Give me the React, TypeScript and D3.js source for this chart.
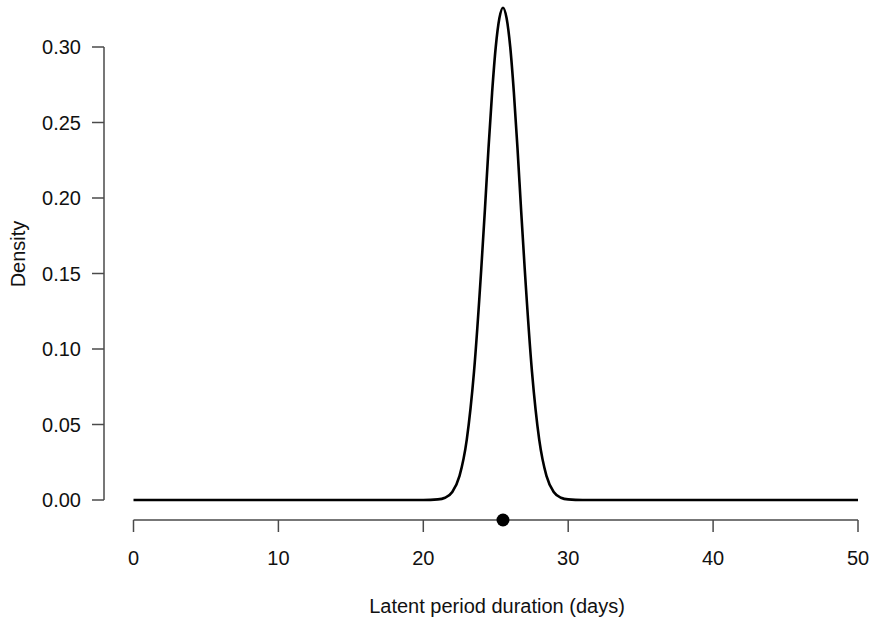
import * as d3 from "d3";
import { useRef, useEffect } from "react";

// density curve (days, density)
const days = [0, 10, 20, 21, 21.5, 22, 22.5, 23, 23.5, 24, 24.25, 24.5, 24.75, 25, 25.25, 25.5, 25.75, 26, 26.25, 26.5, 26.75, 27, 27.5, 28, 28.5, 29, 29.5, 30, 31, 40, 50];
const density = [0, 0, 0.00002, 0.0004, 0.0015, 0.0053, 0.016, 0.040, 0.085, 0.153, 0.192, 0.233, 0.270, 0.300, 0.319, 0.326, 0.319, 0.300, 0.270, 0.233, 0.192, 0.153, 0.085, 0.040, 0.016, 0.0053, 0.0015, 0.0004, 0.00002, 0, 0];

// point estimate shown under the curve
const meanDay = 25.5;

const xTicks = [0, 10, 20, 30, 40, 50];
const yTicks = [0, 0.05, 0.1, 0.15, 0.2, 0.25, 0.3];

export default function App() {
    const svgRef = useRef<SVGSVGElement>(null);

    useEffect(() => {
        const svg = d3.select(svgRef.current);
        svg.selectAll("*").remove();

        const font = "'Liberation Sans', Arial, sans-serif";
        const axisColor = "#4a4a4a";

        // scales
        const x = d3.scaleLinear().domain([0, 50]).range([133.5, 858]);
        const y = d3.scaleLinear().domain([0, 0.3]).range([500, 47]);

        const axisY = 520;
        const axisX = 104;

        // curve
        const points = days.map((d, i) => [d, density[i]] as [number, number]);
        const line = d3.line<[number, number]>().x(d => x(d[0])).y(d => y(d[1])).curve(d3.curveMonotoneX);
        svg.append("path").datum(points).attr("d", line).attr("fill", "none").attr("stroke", "#000").attr("stroke-width", 2.6).attr("stroke-linejoin", "round");

        // x axis
        const gx = svg.append("g");
        gx.append("line").attr("x1", x(0)).attr("x2", x(50)).attr("y1", axisY).attr("y2", axisY).attr("stroke", axisColor).attr("stroke-width", 1.5);
        gx.selectAll("line.tick").data(xTicks).enter().append("line").attr("class", "tick")
            .attr("x1", d => x(d)).attr("x2", d => x(d)).attr("y1", axisY).attr("y2", axisY + 12).attr("stroke", axisColor).attr("stroke-width", 1.5);
        gx.selectAll("text").data(xTicks).enter().append("text")
            .attr("x", d => x(d)).attr("y", 565).attr("text-anchor", "middle")
            .style("font-family", font).style("font-size", "20px").attr("fill", "#111").text(d => d);

        // y axis
        const gy = svg.append("g");
        gy.append("line").attr("x1", axisX).attr("x2", axisX).attr("y1", y(0)).attr("y2", y(0.3)).attr("stroke", axisColor).attr("stroke-width", 1.5);
        gy.selectAll("line.tick").data(yTicks).enter().append("line").attr("class", "tick")
            .attr("x1", axisX - 12).attr("x2", axisX).attr("y1", d => y(d)).attr("y2", d => y(d)).attr("stroke", axisColor).attr("stroke-width", 1.5);
        gy.selectAll("text").data(yTicks).enter().append("text")
            .attr("x", 81).attr("y", d => y(d)).attr("dy", "0.35em").attr("text-anchor", "end")
            .style("font-family", font).style("font-size", "20px").attr("fill", "#111").text(d => d3.format(".2f")(d));

        // mean marker
        svg.append("circle").attr("cx", x(meanDay)).attr("cy", axisY).attr("r", 6.5).attr("fill", "#000");

        // axis titles
        svg.append("text").attr("x", 497).attr("y", 613).attr("text-anchor", "middle")
            .style("font-family", font).style("font-size", "20px").attr("fill", "#111").text("Latent period duration (days)");
        svg.append("text").attr("transform", "translate(25,254) rotate(-90)").attr("text-anchor", "middle")
            .style("font-family", font).style("font-size", "20px").attr("fill", "#111").text("Density");
    }, []);

    return (
        <svg ref={svgRef} width={884} height={621} style={{ position: "absolute", left: 0, top: 0, background: "#fff" }} />
    );
}
